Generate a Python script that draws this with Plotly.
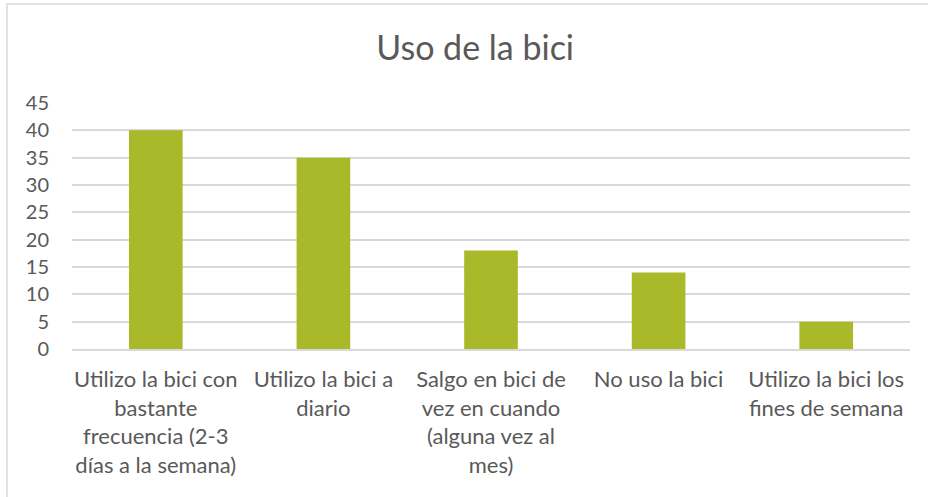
import plotly.graph_objects as go

# Datos del gráfico
categorias = [
    "Utilizo la bici con<br>bastante<br>frecuencia (2-3<br>días a la semana)",
    "Utilizo la bici a<br>diario",
    "Salgo en bici de<br>vez en cuando<br>(alguna vez al<br>mes)",
    "No uso la bici",
    "Utilizo la bici los<br>fines de semana",
]
valores = [40, 35, 18, 14, 5]
ticks_y = [0, 5, 10, 15, 20, 25, 30, 35, 40, 45]

fuente = "Lato, 'Open Sans', sans-serif"
gris_texto = "#595959"

fig = go.Figure()
fig.add_trace(
    go.Bar(
        x=categorias,
        y=valores,
        marker=dict(color="#A9B92A", line=dict(width=0)),
        width=0.32,
    )
)

# Marco del área del gráfico (se sale por la derecha y por abajo)
fig.add_shape(
    type="rect",
    xref="paper",
    yref="paper",
    x0=(7 - 72) / 838,
    x1=1.05,
    y0=-0.7,
    y1=1 + (103 - 4) / 246,
    line=dict(color="#D9D9D9", width=1.5),
    fillcolor="rgba(0,0,0,0)",
    layer="below",
)

fig.update_layout(
    width=928,
    height=497,
    margin=dict(l=72, r=18, t=103, b=148, autoexpand=False),
    paper_bgcolor="white",
    plot_bgcolor="white",
    showlegend=False,
    title=dict(
        text="Uso de la bici",
        x=0.512,
        xanchor="center",
        y=1 - 48 / 497,
        yanchor="middle",
        font=dict(family=fuente, size=34, color=gris_texto),
    ),
    font=dict(family=fuente, color=gris_texto),
)

fig.update_xaxes(
    tickfont=dict(size=22, color=gris_texto),
    showline=True,
    linecolor="#D9D9D9",
    linewidth=1.5,
    ticks="",
    tickangle=0,
    ticklabelstandoff=10,
    automargin=False,
    fixedrange=True,
)
fig.update_yaxes(
    range=[0, 45],
    tickvals=ticks_y,
    tickfont=dict(size=20, color=gris_texto),
    showgrid=True,
    gridcolor="#D9D9D9",
    gridwidth=1.5,
    zeroline=False,
    ticks="",
    ticklabelstandoff=22,
    automargin=False,
    fixedrange=True,
)

# quitar el margen por defecto del body para que el gráfico empiece en (0,0)
fig.write_html(
    "out.html",
    config={"displayModeBar": False},
    post_script="document.body.style.margin='0';",
)
